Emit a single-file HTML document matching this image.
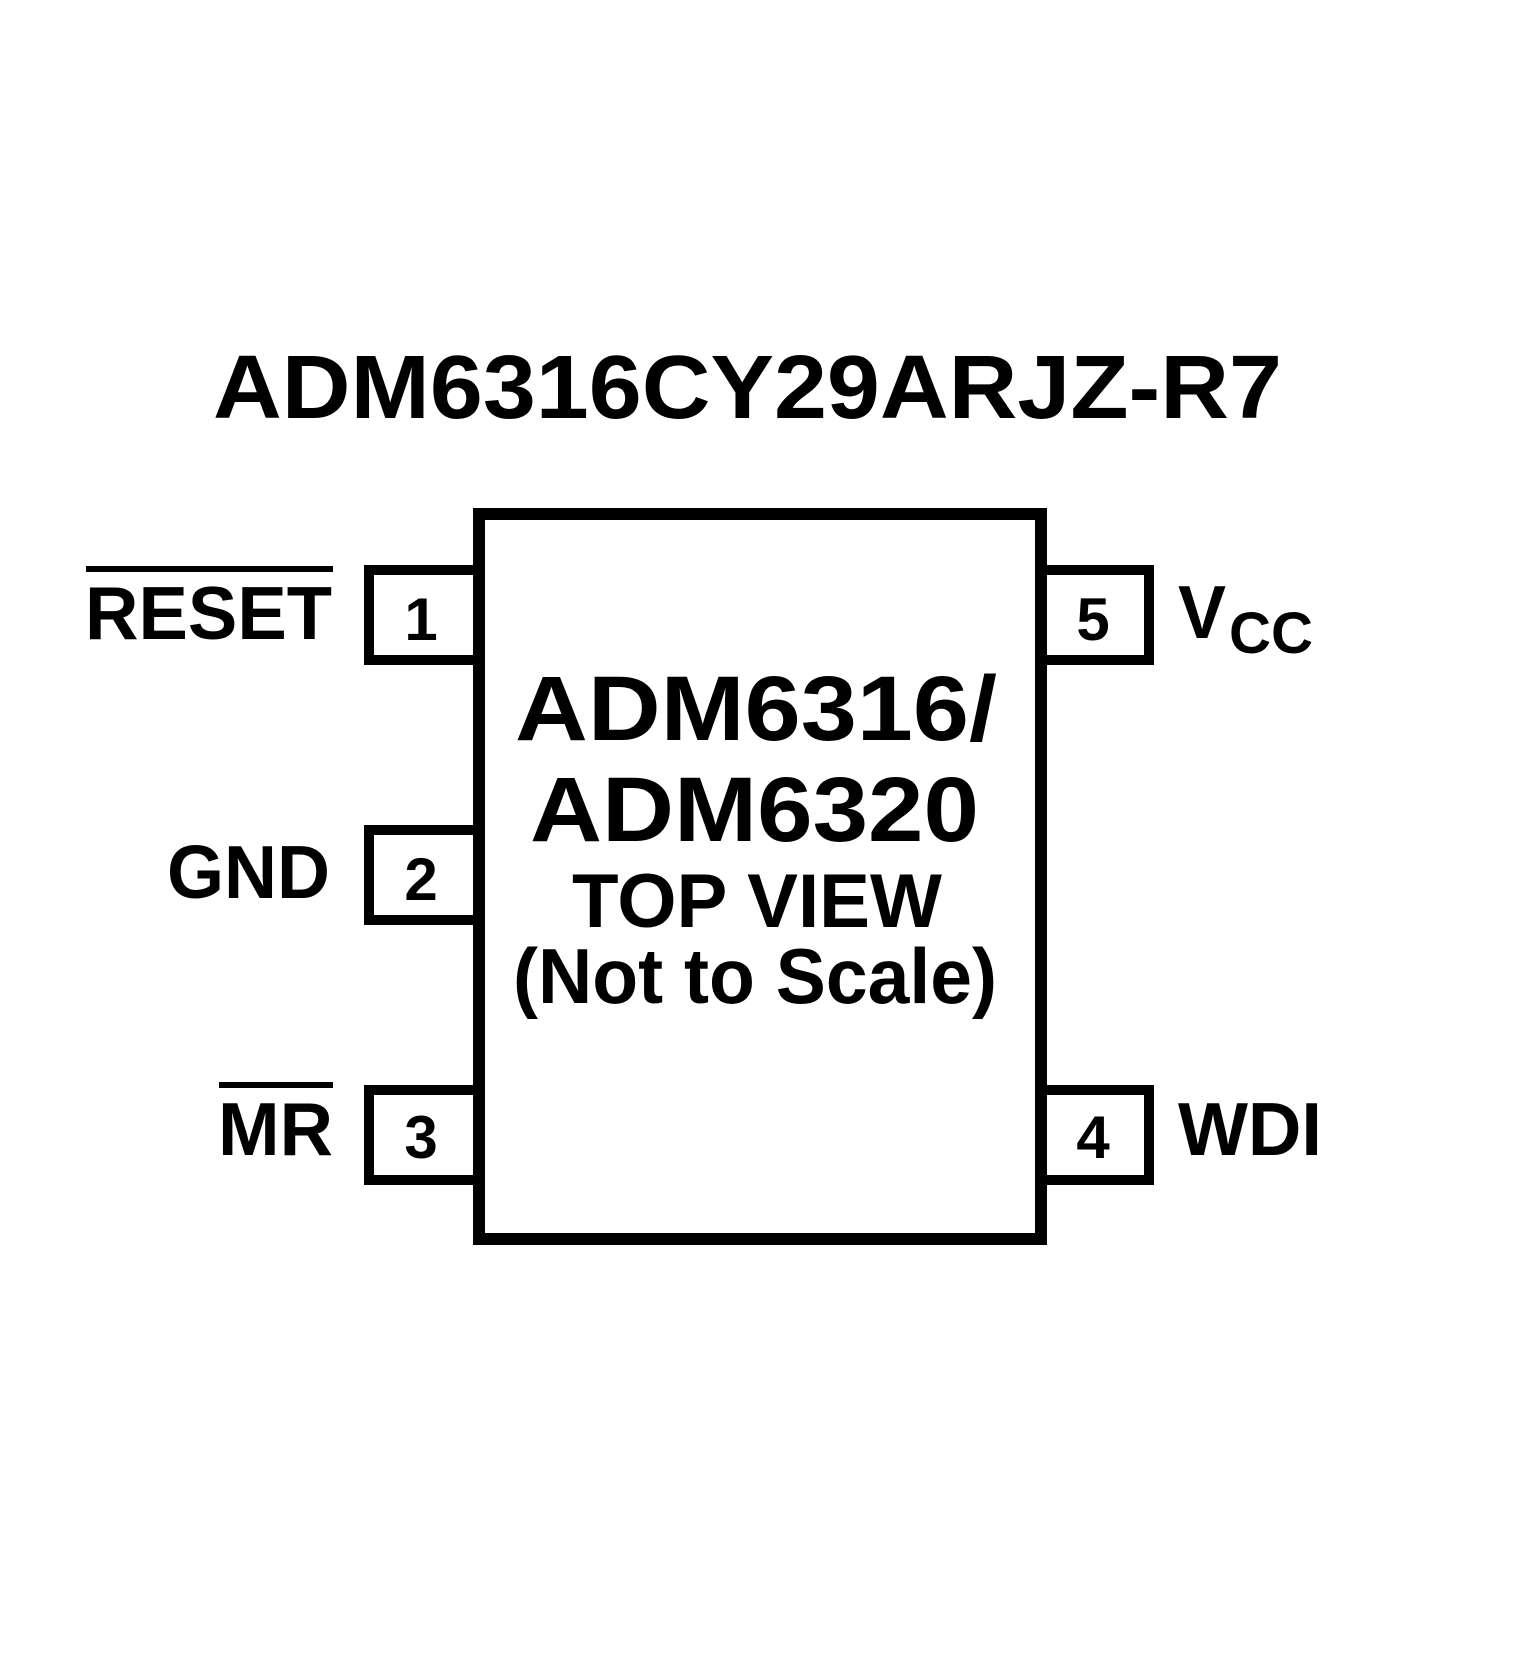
<!DOCTYPE html>
<html><head><meta charset="utf-8"><style>
html,body{margin:0;padding:0;background:#fff;}
svg{display:block;}
text{font-family:"Liberation Sans",Arial,sans-serif;font-weight:bold;fill:#000;}
</style></head><body>
<svg width="1535" height="1675" viewBox="0 0 1535 1675" xmlns="http://www.w3.org/2000/svg">
<rect width="1535" height="1675" fill="#fff"/>
<text x="213" y="418" font-size="90" textLength="1069" lengthAdjust="spacingAndGlyphs">ADM6316CY29ARJZ-R7</text>
<rect x="479" y="514" width="562" height="725" fill="none" stroke="#000" stroke-width="12"/>
<g fill="none" stroke="#000" stroke-width="10">
<path d="M479 570 H369 V660 H479"/>
<path d="M479 830 H369 V920 H479"/>
<path d="M479 1090 H369 V1180 H479"/>
<path d="M1041 570 H1149 V660 H1041"/>
<path d="M1041 1090 H1149 V1180 H1041"/>
</g>
<g font-size="60" text-anchor="middle">
<text x="421" y="640">1</text>
<text x="421" y="900">2</text>
<text x="421" y="1158">3</text>
<text x="1093" y="640">5</text>
<text x="1093" y="1158">4</text>
</g>
<text x="85" y="639" font-size="75" textLength="247" lengthAdjust="spacingAndGlyphs">RESET</text>
<rect x="86" y="566" width="247" height="6" fill="#000"/>
<text x="167" y="898" font-size="75" textLength="163" lengthAdjust="spacingAndGlyphs">GND</text>
<text x="218" y="1155" font-size="75" textLength="115" lengthAdjust="spacingAndGlyphs">MR</text>
<rect x="219" y="1082" width="114" height="6" fill="#000"/>
<text x="1178" y="638" font-size="75" textLength="48" lengthAdjust="spacingAndGlyphs">V</text>
<text x="1229" y="653" font-size="58" textLength="84" lengthAdjust="spacingAndGlyphs">CC</text>
<text x="1178" y="1155" font-size="75" textLength="144" lengthAdjust="spacingAndGlyphs">WDI</text>
<text x="515" y="740" font-size="92" textLength="482" lengthAdjust="spacingAndGlyphs">ADM6316/</text>
<text x="530" y="841" font-size="92" textLength="449" lengthAdjust="spacingAndGlyphs">ADM6320</text>
<text x="572" y="927" font-size="76" textLength="370" lengthAdjust="spacingAndGlyphs">TOP VIEW</text>
<text x="513" y="1003" font-size="78" textLength="484" lengthAdjust="spacingAndGlyphs">(Not to Scale)</text>
</svg>
</body></html>
